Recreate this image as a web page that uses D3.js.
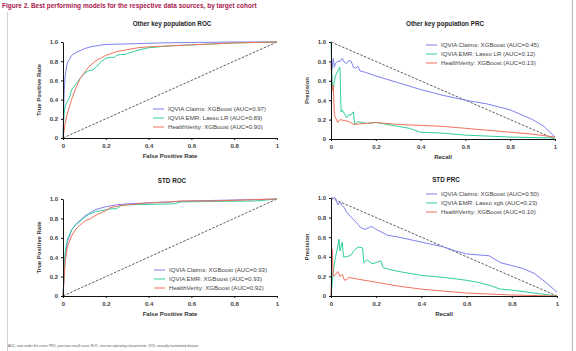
<!DOCTYPE html>
<html>
<head>
<meta charset="utf-8">
<script src="https://cdn.jsdelivr.net/npm/d3@7"></script>
<style>
  body { margin: 0; background: #fff; }
  svg { display: block; font-family: "Liberation Sans", Arial, sans-serif; }
</style>
</head>
<body>
<svg id="chart" width="576" height="351"></svg>
<script>
// series colours
const colors = { claims: "#7f7ff0", emr: "#2fcf9c", hv: "#f0715c" };

const xTicks = [0, 0.2, 0.4, 0.6, 0.8, 1];
const xTickLabels = ["0", "0.2", "0.4", "0.6", "0.8", "1"];
const yTicks = [0, 0.2, 0.4, 0.6, 0.8, 1];
const yTickLabels = ["0", "0.2", "0.4", "0.6", "0.8", "1.0"];

// ---- Other key population ROC (fpr, tpr)
const okpRocClaims = [[0,0],[0.005,0.45],[0.01,0.65],[0.02,0.78],[0.04,0.86],[0.06,0.89],[0.08,0.91],[0.1,0.93],[0.13,0.95],[0.17,0.965],[0.2,0.975],[0.3,0.98],[0.45,0.99],[0.6,0.995],[0.8,1],[1,1]];
const okpRocEmr = [[0,0],[0.005,0.25],[0.01,0.33],[0.02,0.38],[0.03,0.42],[0.04,0.5],[0.06,0.56],[0.08,0.62],[0.1,0.67],[0.12,0.7],[0.14,0.71],[0.16,0.75],[0.18,0.8],[0.2,0.83],[0.22,0.84],[0.24,0.84],[0.25,0.86],[0.27,0.87],[0.29,0.87],[0.3,0.88],[0.33,0.9],[0.36,0.92],[0.4,0.94],[0.45,0.95],[0.5,0.96],[0.6,0.97],[0.8,0.99],[1,1]];
const okpRocHv = [[0,0],[0.01,0.15],[0.02,0.25],[0.04,0.4],[0.06,0.52],[0.08,0.62],[0.1,0.68],[0.12,0.74],[0.15,0.8],[0.2,0.86],[0.25,0.9],[0.3,0.92],[0.35,0.94],[0.4,0.95],[0.5,0.96],[0.6,0.97],[0.7,0.98],[0.8,0.99],[1,1]];

// ---- Other key population PRC (recall, precision)
const okpPrcClaims = [[0,0.8],[0.005,0.72],[0.01,0.83],[0.015,0.74],[0.02,0.78],[0.03,0.8],[0.04,0.8],[0.05,0.83],[0.06,0.79],[0.07,0.78],[0.08,0.81],[0.09,0.8],[0.1,0.74],[0.11,0.73],[0.12,0.75],[0.13,0.7],[0.15,0.69],[0.2,0.65],[0.3,0.58],[0.4,0.51],[0.5,0.45],[0.6,0.4],[0.7,0.36],[0.8,0.3],[0.9,0.2],[0.95,0.13],[1,0.02]];
const okpPrcEmr = [[0,1],[0.005,0.6],[0.01,0.5],[0.015,0.6],[0.02,0.65],[0.03,0.7],[0.04,0.74],[0.045,0.28],[0.05,0.3],[0.06,0.26],[0.07,0.22],[0.08,0.25],[0.09,0.25],[0.1,0.28],[0.105,0.15],[0.12,0.18],[0.14,0.17],[0.16,0.16],[0.2,0.17],[0.25,0.15],[0.3,0.13],[0.35,0.11],[0.4,0.07],[0.5,0.06],[0.6,0.04],[0.8,0.02],[1,0.01]];
const okpPrcHv = [[0,0.78],[0.005,0.5],[0.01,0.55],[0.015,0.25],[0.02,0.22],[0.03,0.17],[0.04,0.2],[0.06,0.19],[0.08,0.18],[0.1,0.15],[0.2,0.17],[0.3,0.15],[0.4,0.14],[0.5,0.13],[0.6,0.11],[0.7,0.09],[0.8,0.07],[0.9,0.05],[1,0.02]];

// ---- STD ROC
const stdRocClaims = [[0,0],[0.01,0.4],[0.02,0.55],[0.04,0.68],[0.06,0.74],[0.08,0.78],[0.1,0.82],[0.12,0.85],[0.15,0.89],[0.2,0.92],[0.25,0.94],[0.3,0.95],[0.4,0.96],[0.5,0.97],[0.6,0.98],[0.8,0.99],[1,1]];
const stdRocEmr = [[0,0],[0.01,0.45],[0.02,0.58],[0.04,0.68],[0.06,0.74],[0.08,0.77],[0.1,0.81],[0.12,0.84],[0.15,0.87],[0.18,0.88],[0.2,0.89],[0.23,0.9],[0.25,0.9],[0.27,0.93],[0.3,0.94],[0.4,0.945],[0.52,0.95],[0.55,0.97],[0.7,0.975],[0.9,0.98],[1,1]];
const stdRocHv = [[0,0],[0.01,0.35],[0.02,0.5],[0.04,0.62],[0.06,0.69],[0.08,0.73],[0.1,0.77],[0.13,0.8],[0.16,0.84],[0.2,0.88],[0.22,0.91],[0.26,0.93],[0.3,0.94],[0.4,0.96],[0.5,0.97],[0.55,0.98],[0.7,0.98],[1,1]];

// ---- STD PRC
const stdPrcClaims = [[0,1],[0.02,1],[0.03,0.93],[0.04,0.96],[0.05,0.92],[0.06,0.9],[0.07,0.85],[0.08,0.83],[0.09,0.8],[0.1,0.78],[0.12,0.73],[0.13,0.7],[0.15,0.68],[0.17,0.7],[0.18,0.71],[0.2,0.68],[0.25,0.62],[0.3,0.6],[0.4,0.55],[0.5,0.5],[0.55,0.46],[0.6,0.43],[0.7,0.41],[0.75,0.34],[0.8,0.31],[0.85,0.28],[0.9,0.23],[0.95,0.14],[1,0.04]];
const stdPrcEmr = [[0,0],[0.01,0.25],[0.02,0.4],[0.03,0.5],[0.035,0.58],[0.04,0.46],[0.05,0.55],[0.055,0.4],[0.07,0.4],[0.09,0.42],[0.1,0.46],[0.12,0.5],[0.14,0.49],[0.145,0.34],[0.16,0.37],[0.18,0.33],[0.2,0.34],[0.22,0.36],[0.23,0.29],[0.26,0.27],[0.3,0.25],[0.35,0.23],[0.4,0.21],[0.5,0.19],[0.6,0.16],[0.65,0.14],[0.7,0.11],[0.75,0.07],[0.8,0.06],[0.9,0.03],[1,0]];
const stdPrcHv = [[0,0],[0.005,0.48],[0.01,0.2],[0.02,0.22],[0.03,0.25],[0.04,0.2],[0.05,0.22],[0.06,0.16],[0.07,0.17],[0.08,0.19],[0.1,0.18],[0.2,0.14],[0.3,0.1],[0.4,0.07],[0.5,0.05],[0.6,0.03],[0.7,0.02],[0.8,0.01],[1,0]];

const panels = [
  { title: "Other key population ROC", xLabel: "False Positive Rate", yLabel: "True Positive Rate",
    box: [63, 42, 277, 138], diag: [[0,0],[1,1]], legend: [168, 109],
    series: [
      { name: "IQVIA Claims: XGBoost (AUC=0.97)", data: okpRocClaims, color: colors.claims },
      { name: "IQVIA EMR: Lasso LR (AUC=0.89)", data: okpRocEmr, color: colors.emr },
      { name: "HealthVerity: XGBoost (AUC=0.90)", data: okpRocHv, color: colors.hv }] },
  { title: "Other key population PRC", xLabel: "Recall", yLabel: "Precision",
    box: [331, 42, 555, 139], diag: [[0,1],[1,0]], legend: [441, 45],
    series: [
      { name: "IQVIA Claims: XGBoost (AUC=0.45)", data: okpPrcClaims, color: colors.claims },
      { name: "IQVIA EMR: Lasso LR (AUC=0.12)", data: okpPrcEmr, color: colors.emr },
      { name: "HealthVerity: XGBoost (AUC=0.13)", data: okpPrcHv, color: colors.hv }] },
  { title: "STD ROC", xLabel: "False Positive Rate", yLabel: "True Positive Rate",
    box: [63, 199, 277, 296], diag: [[0,0],[1,1]], legend: [169, 270],
    series: [
      { name: "IQVIA Claims: XGBoost (AUC=0.93)", data: stdRocClaims, color: colors.claims },
      { name: "IQVIA EMR: XGBoost (AUC=0.93)", data: stdRocEmr, color: colors.emr },
      { name: "HealthVerity: XGBoost (AUC=0.92)", data: stdRocHv, color: colors.hv }] },
  { title: "STD PRC", xLabel: "Recall", yLabel: "Precision",
    box: [331, 198, 557, 296], diag: [[0,1],[1,0]], legend: [441, 194],
    series: [
      { name: "IQVIA Claims: XGBoost (AUC=0.50)", data: stdPrcClaims, color: colors.claims },
      { name: "IQVIA EMR: Lasso xgb (AUC=0.23)", data: stdPrcEmr, color: colors.emr },
      { name: "HealthVerity: XGBoost (AUC=0.10)", data: stdPrcHv, color: colors.hv }] }
];

const svg = d3.select("#chart");

// page frame lines
svg.append("line").attr("x1", 7.5).attr("x2", 7.5).attr("y1", 12).attr("y2", 351)
  .attr("stroke", "#d0d0d0").attr("stroke-width", 1);
svg.append("line").attr("x1", 572.5).attr("x2", 572.5).attr("y1", 0).attr("y2", 351)
  .attr("stroke", "#bdbdbd").attr("stroke-width", 1.2);

svg.append("text").attr("x", 2).attr("y", 8)
  .attr("font-size", 6.5).attr("font-weight", "bold").attr("fill", "#a8204e")
  .text("Figure 2. Best performing models for the respective data sources, by target cohort");

svg.append("text").attr("x", 8).attr("y", 347)
  .attr("font-size", 3.3).attr("fill", "#555")
  .text("AUC, area under the curve; PRC, precision-recall curve; ROC, receiver operating characteristic; STD, sexually transmitted disease");

panels.forEach(p => {
  const [x0, y0, x1, y1] = p.box;
  const x = d3.scaleLinear().domain([0, 1]).range([x0, x1]);
  const y = d3.scaleLinear().domain([0, 1]).range([y1, y0]);
  const g = svg.append("g");

  g.append("text").attr("x", (x0 + x1) / 2 + 2).attr("y", y0 - 16)
    .attr("text-anchor", "middle").attr("font-size", 6.3).attr("font-weight", "bold").attr("fill", "#222")
    .text(p.title);

  const line = d3.line().x(d => x(d[0])).y(d => y(d[1]));

  g.append("path").datum(p.diag).attr("d", line)
    .attr("fill", "none").attr("stroke", "#333").attr("stroke-width", 0.8).attr("stroke-dasharray", "2.5,1.5");

  p.series.forEach(s => {
    g.append("path").datum(s.data).attr("d", line)
      .attr("fill", "none").attr("stroke", s.color).attr("stroke-width", 1);
  });

  const xAxis = g.append("g").attr("transform", `translate(0,${y1})`)
    .call(d3.axisBottom(x).tickValues(xTicks).tickFormat((d, i) => xTickLabels[i]).tickSize(2).tickSizeOuter(0));
  const yAxis = g.append("g").attr("transform", `translate(${x0},0)`)
    .call(d3.axisLeft(y).tickValues(yTicks).tickFormat((d, i) => yTickLabels[i]).tickSize(2).tickSizeOuter(0));
  [xAxis, yAxis].forEach(a => {
    a.select(".domain").attr("stroke", "#111").attr("stroke-width", 1);
    a.selectAll(".tick line").attr("stroke", "#111");
    a.selectAll("text").attr("font-size", 6).attr("font-weight", "bold").attr("fill", "#444")
      .attr("font-family", "Liberation Sans, Arial, sans-serif");
  });
  xAxis.selectAll("text").attr("dy", "0.9em");

  g.append("text").attr("x", (x0 + x1) / 2).attr("y", y1 + 20)
    .attr("text-anchor", "middle").attr("font-size", 6).attr("font-weight", "bold").attr("fill", "#333")
    .text(p.xLabel);
  g.append("text").attr("transform", `translate(${x0 - 22},${(y0 + y1) / 2}) rotate(-90)`)
    .attr("text-anchor", "middle").attr("font-size", 6).attr("font-weight", "bold").attr("fill", "#333")
    .text(p.yLabel);

  const [lx, ly] = p.legend;
  p.series.forEach((s, i) => {
    const yy = ly + i * 9;
    g.append("line").attr("x1", lx - 15).attr("x2", lx - 4).attr("y1", yy).attr("y2", yy)
      .attr("stroke", s.color).attr("stroke-width", 1);
    g.append("text").attr("x", lx).attr("y", yy).attr("dy", "0.35em")
      .attr("font-size", 6.1).attr("fill", "#444").text(s.name);
  });
});
</script>
</body>
</html>
